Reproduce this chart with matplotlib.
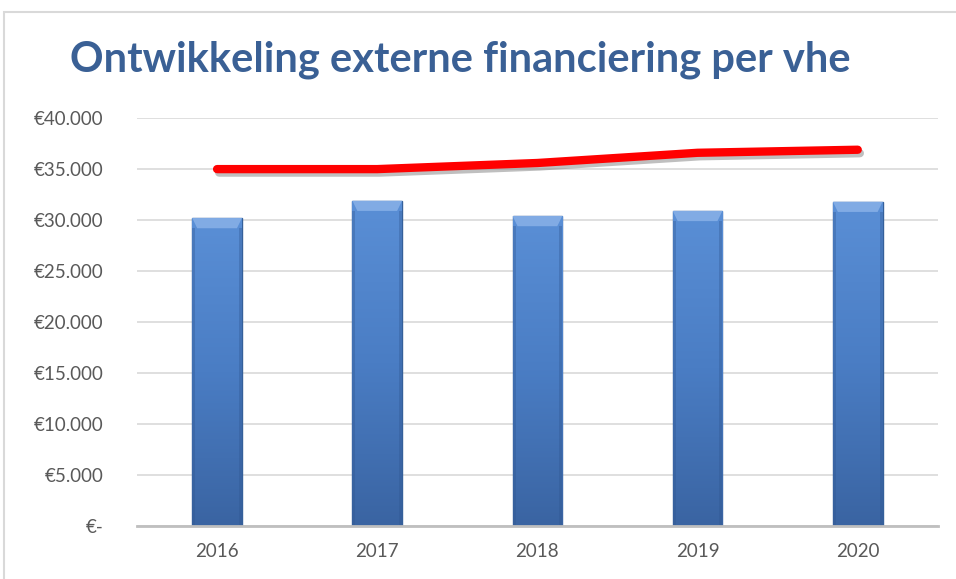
import matplotlib
matplotlib.use("Agg")
import matplotlib.pyplot as plt
import matplotlib.patheffects as pe
import numpy as np
from matplotlib.colors import LinearSegmentedColormap
from matplotlib.patches import Polygon, Rectangle

# ---------------------------------------------------------------------------
# Data
# ---------------------------------------------------------------------------
years = ["2016", "2017", "2018", "2019", "2020"]
financing_per_vhe = [30200, 31900, 30400, 30900, 31800]
reference_line = [35000, 35000, 35600, 36600, 36900]
y_ticks = [0, 5000, 10000, 15000, 20000, 25000, 30000, 35000, 40000]


def euro(v):
    if v == 0:
        return "€-"
    return "€" + f"{v:,.0f}".replace(",", ".")


plt.rcParams.update({"font.family": ["Lato", "DejaVu Sans"]})

fig = plt.figure(figsize=(9.56, 5.79), dpi=100)
ax = fig.add_axes([0.1433, 0.0915, 0.8377, 0.7045])

# chart border (only top and left edges are visible in the crop)
fig.patches.append(Rectangle((0.0045, -0.1), 1.2, 1.079, transform=fig.transFigure,
                             fill=False, edgecolor="#d9d9d9", linewidth=1.5))

x = np.arange(len(years))
bars = ax.bar(x, financing_per_vhe, width=0.31, color="#4f81bd",
              edgecolor="#35609a", linewidth=1.0, zorder=3)

# gradient fill + bevel for the bars
cmap = LinearSegmentedColormap.from_list("bar", ["#3a64a2", "#4a7dc4", "#5a8fd6"])
grad = np.linspace(0, 1, 256).reshape(-1, 1)
for b in bars:
    x0, w, h = b.get_x(), b.get_width(), b.get_height()
    im = ax.imshow(grad, cmap=cmap, aspect="auto", origin="lower",
                   extent=(x0, x0 + w, 0, h), zorder=3)
    im.set_clip_path(b)
    inset = w * 0.1
    ax.add_patch(Polygon([(x0, h), (x0 + w, h), (x0 + w - inset, h - 1000),
                          (x0 + inset, h - 1000)], closed=True,
                         facecolor="#8fb6ea", edgecolor="none", alpha=0.75, zorder=4))
    # darker side strips
    for sx in (x0, x0 + w - inset * 0.6):
        ax.add_patch(Rectangle((sx, 0), inset * 0.6, h - 1000, facecolor="#2f5690",
                               edgecolor="none", alpha=0.35, zorder=4))

ax.plot(x, reference_line, color="#ff0000", linewidth=6, solid_capstyle="round",
        zorder=5,
        path_effects=[pe.SimpleLineShadow(offset=(1.5, -2.5), shadow_color="#808080",
                                          alpha=0.5), pe.Normal()])

ax.set_xlim(-0.5, len(years) - 0.5)
ax.set_ylim(0, 40000)
ax.set_yticks(y_ticks)
ax.set_yticklabels([euro(v) for v in y_ticks])
ax.set_xticks(x)
ax.set_xticklabels(years)
ax.tick_params(axis="y", length=0, pad=24, labelsize=13.5, labelcolor="#595959")
ax.tick_params(axis="x", length=0, pad=12, labelsize=13.5, labelcolor="#595959")

ax.grid(True, axis="y", color="#d9d9d9", linewidth=1.2, zorder=0)
for side in ("top", "right", "left"):
    ax.spines[side].set_visible(False)
ax.spines["bottom"].set_color("#bfbfbf")
ax.spines["bottom"].set_linewidth(2)
ax.spines["bottom"].set_zorder(6)
ax.set_axisbelow(True)

fig.text(0.482, 0.897, "Ontwikkeling externe financiering per vhe", ha="center",
         va="center", fontsize=30, fontweight="bold", color="#3a6095")

fig.savefig("out.png", dpi=100)
